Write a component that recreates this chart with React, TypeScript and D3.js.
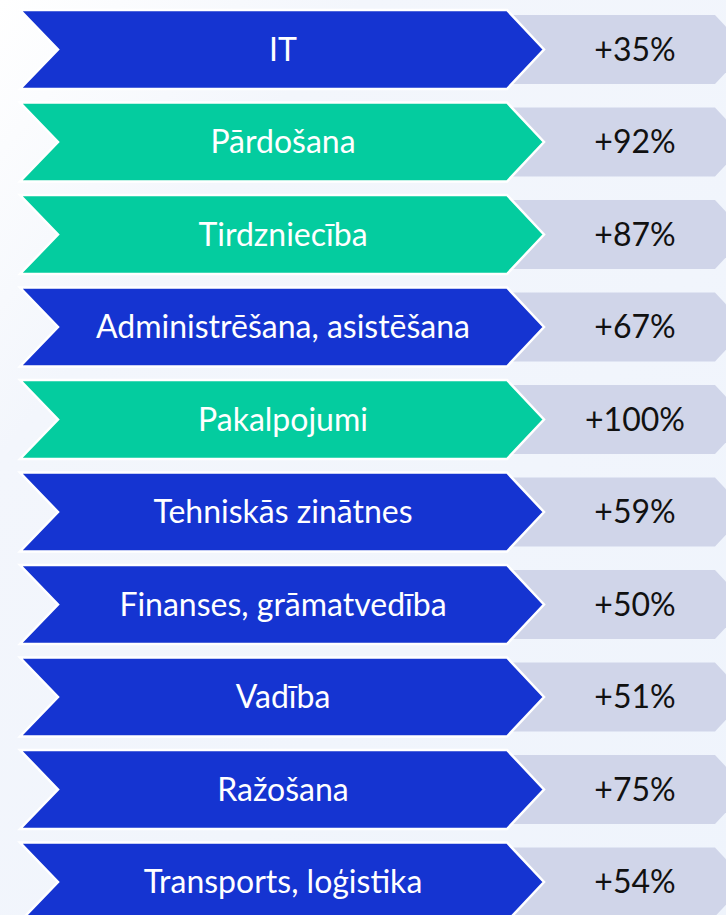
import React from "react";
import * as d3 from "d3";

const categories = [
  "IT",
  "Pārdošana",
  "Tirdzniecība",
  "Administrēšana, asistēšana",
  "Pakalpojumi",
  "Tehniskās zinātnes",
  "Finanses, grāmatvedība",
  "Vadība",
  "Ražošana",
  "Transports, loģistika",
];
const values = [35, 92, 87, 67, 100, 59, 50, 51, 75, 54];
const groups = ["a", "b", "b", "a", "b", "a", "a", "a", "a", "a"];

const W = 726;
const H = 915;

export default function App() {
  const n = categories.length;
  const step = 92.5;
  const band = 79;
  const y = d3
    .scaleBand<number>()
    .domain(d3.range(n))
    .range([10, 10 + step * (n - 1) + band])
    .paddingInner((step - band) / step)
    .paddingOuter(0);
  const color = d3.scaleOrdinal<string, string>().domain(["a", "b"]).range(["#1534d1", "#04cc9f"]);
  const bh = y.bandwidth();

  const x0 = 20, notch = 38, xr = 507, tip = 544;
  const gx0 = 500, gxr = 715;

  return (
    <svg width={W} height={H} style={{ position: "absolute", left: 0, top: 0, display: "block" }}>
      <defs>
        <linearGradient id="bg" x1="0" y1="0" x2="1" y2="1">
          <stop offset="0" stopColor="#ffffff" />
          <stop offset="0.25" stopColor="#f3f6fc" />
          <stop offset="1" stopColor="#eff4fc" />
        </linearGradient>
      </defs>
      <rect x={0} y={0} width={W} height={H} fill="url(#bg)" />
      {categories.map((c, i) => {
        const top = y(i)!;
        const mid = top + bh / 2;
        const gTop = top + 5, gBot = top + bh - 5;
        const gh = (gBot - gTop) / 2;
        const gray = d3.path();
        gray.moveTo(gx0, gTop);
        gray.lineTo(gxr, gTop);
        gray.lineTo(gxr + gh * (tip - xr) / (bh / 2), mid);
        gray.lineTo(gxr, gBot);
        gray.lineTo(gx0, gBot);
        gray.closePath();
        const p = d3.path();
        p.moveTo(x0, top);
        p.lineTo(xr, top);
        p.lineTo(tip, mid);
        p.lineTo(xr, top + bh);
        p.lineTo(x0, top + bh);
        p.lineTo(x0 + notch, mid);
        p.closePath();
        return (
          <g key={c}>
            <path d={gray.toString()} fill="#d0d5e9" />
            <path d={p.toString()} fill={color(groups[i])} stroke="#ffffff" strokeWidth={2.5} strokeLinejoin="miter" />
            <text
              x={283}
              y={mid}
              dy="0.35em"
              textAnchor="middle"
              fill="#ffffff"
              style={{ fontFamily: "Lato", fontSize: 32 }}
            >
              {c}
            </text>
            <text
              x={635}
              y={mid}
              dy="0.35em"
              textAnchor="middle"
              fill="#111111"
              style={{ fontFamily: "Lato", fontSize: 32 }}
            >
              {`+${values[i]}%`}
            </text>
          </g>
        );
      })}
    </svg>
  );
}
